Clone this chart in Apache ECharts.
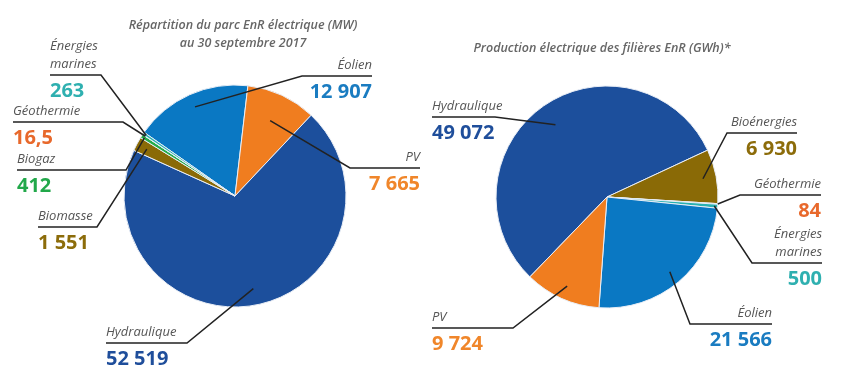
<!DOCTYPE html>
<html>
<head>
<meta charset="utf-8">
<script src="https://cdn.jsdelivr.net/npm/echarts@6/dist/echarts.min.js"></script>
<style>
  html, body { margin: 0; background: #fff; }
  #chart { width: 850px; height: 377px; }
</style>
</head>
<body>
<div id="chart"></div>
<script>
// Parc EnR électrique (MW) au 30/09/2017, ordre horaire
const parcNames = ['Éolien', 'PV', 'Hydraulique', 'Biomasse', 'Biogaz', 'Géothermie', 'Énergies marines']
const parcValues = [12907, 7665, 52519, 1551, 412, 16.5, 263]

// Production électrique des filières EnR (GWh)
const prodNames = ['Hydraulique', 'Bioénergies', 'Géothermie', 'Énergies marines', 'Éolien', 'PV']
const prodValues = [49072, 6930, 84, 500, 21566, 9724]

const sliceColor = {
  'Hydraulique': '#1c4f9c',
  'Éolien': '#0a78c3',
  'PV': '#f07d1f',
  'Biomasse': '#8a6a06',
  'Bioénergies': '#8a6a06',
  'Biogaz': '#25ad4b',
  'Géothermie': '#ea6a2a',
  'Énergies marines': '#29b1b2',
}
const valueColor = {
  'Hydraulique': '#1f4e9b',
  'Éolien': '#1a7cc1',
  'PV': '#f0862a',
  'Biomasse': '#8c6c0a',
  'Bioénergies': '#8c6c0a',
  'Biogaz': '#22a84a',
  'Géothermie': '#e8692c',
  'Énergies marines': '#2fb0b0',
}

const leftCenter = [235, 196]
const rightCenter = [607, 197]
const radius = 111

// emplacement des étiquettes : x du texte, y du trait souligné, coude du trait
const parcSpots = {
  'Énergies marines': { x: 50, uy: 75, elbow: 101, align: 'left', depth: 0.97 },
  'Géothermie': { x: 13, uy: 122, elbow: 123, align: 'left', depth: 0.97 },
  'Biogaz': { x: 17, uy: 170, elbow: 126, align: 'left', depth: 0.97 },
  'Biomasse': { x: 38, uy: 227, elbow: 97, align: 'left', depth: 0.9 },
  'Hydraulique': { x: 106, uy: 343, elbow: 187, align: 'left', depth: 0.85 },
  'Éolien': { x: 372, uy: 76, elbow: 302, align: 'right', depth: 0.88 },
  'PV': { x: 420, uy: 168, elbow: 350, align: 'right', depth: 0.75 },
}
const prodSpots = {
  'Hydraulique': { x: 432, uy: 117, elbow: 495, align: 'left', depth: 0.8 },
  'Bioénergies': { x: 797, uy: 133, elbow: 727, align: 'right', depth: 0.88 },
  'Géothermie': { x: 821, uy: 195, elbow: 740, align: 'right', depth: 1 },
  'Énergies marines': { x: 822, uy: 263, elbow: 752, align: 'right', depth: 0.97 },
  'Éolien': { x: 772, uy: 324, elbow: 690, align: 'right', depth: 0.88 },
  'PV': { x: 432, uy: 328, elbow: 513, align: 'left', depth: 0.88 },
}

function frNumber(v) {
  const parts = String(v).split('.')
  const int = parts[0].replace(/\B(?=(\d{3})+(?!\d))/g, ' ')
  return parts[1] ? int + ',' + parts[1] : int
}

function nameLines(name) {
  return name.replace('Énergies ', 'Énergies\n').split('\n')
}

function buildRich(names) {
  const rich = {
    n: { fontFamily: 'Open Sans', fontStyle: 'italic', fontSize: 13, color: '#555', lineHeight: 22 },
    n1: { fontFamily: 'Open Sans', fontStyle: 'italic', fontSize: 13, color: '#555', lineHeight: 13 },
  }
  names.forEach((nm, i) => {
    rich['v' + i] = { fontFamily: 'Open Sans', fontWeight: 'bold', fontSize: 20, color: valueColor[nm], lineHeight: 32 }
  })
  return rich
}

function labelFormatter(p) {
  const lines = nameLines(p.name)
  const head = lines.map((l, i) => (i < lines.length - 1 ? '{n1|' + l + '}' : '{n|' + l + '}')).join('\n')
  return head + '\n{v' + p.dataIndex + '|' + frNumber(p.value) + '}'
}

function makeLayout(spots, names, center) {
  return function (params) {
    const nm = names[params.dataIndex]
    const s = spots[nm]
    const edge = params.labelLinePoints
      ? params.labelLinePoints[0]
      : [params.rect.x + params.rect.width / 2, params.rect.y + params.rect.height / 2]
    const p0 = [
      center[0] + s.depth * (edge[0] - center[0]),
      center[1] + s.depth * (edge[1] - center[1]),
    ]
    const extra = nameLines(nm).length - 1
    return {
      x: s.x,
      y: s.uy - 22 - 13 * extra,
      align: s.align,
      verticalAlign: 'top',
      labelLinePoints: [p0, [s.elbow, s.uy], [s.x, s.uy]],
    }
  }
}

// secteurs colorés, sans étiquette
function pieSlices(names, values, center, startAngle) {
  return {
    type: 'pie',
    z: 1,
    center: center,
    radius: radius,
    startAngle: startAngle,
    clockwise: true,
    animation: false,
    silent: true,
    itemStyle: { borderColor: '#e9eef6', borderWidth: 1 },
    label: { show: false },
    labelLine: { show: false },
    emphasis: { disabled: true },
    data: names.map((nm, i) => ({
      name: nm,
      value: values[i],
      itemStyle: { color: sliceColor[nm] },
    })),
  }
}

// même camembert transparent par-dessus, pour les étiquettes et leurs traits
function pieLabels(names, values, center, startAngle, spots) {
  return {
    type: 'pie',
    z: 5,
    center: center,
    radius: radius,
    startAngle: startAngle,
    clockwise: true,
    avoidLabelOverlap: false,
    animation: false,
    silent: true,
    itemStyle: { color: 'rgba(0,0,0,0)', borderWidth: 0 },
    label: {
      show: true,
      position: 'outside',
      formatter: labelFormatter,
      rich: buildRich(names),
    },
    labelLine: {
      show: true,
      showAbove: true,
      length: 10,
      length2: 10,
      lineStyle: { color: '#222', width: 1.5 },
    },
    labelLayout: makeLayout(spots, names, center),
    emphasis: { disabled: true },
    data: names.map((nm, i) => ({ name: nm, value: values[i] })),
  }
}

const leftStart = 145
const rightStart = 226

const chart = echarts.init(document.getElementById('chart'))
chart.setOption({
  backgroundColor: '#fff',
  title: [
    {
      text: 'Répartition du parc EnR électrique (MW)\nau 30 septembre 2017',
      left: 238,
      top: 11,
      textAlign: 'center',
      textStyle: {
        fontFamily: 'Open Sans', fontStyle: 'italic', fontWeight: 600,
        fontSize: 12.5, color: '#666', lineHeight: 18,
      },
    },
    {
      text: 'Production électrique des filières EnR (GWh)*',
      left: 597,
      top: 37,
      textAlign: 'center',
      textStyle: {
        fontFamily: 'Open Sans', fontStyle: 'italic', fontWeight: 600,
        fontSize: 12.5, color: '#666',
      },
    },
  ],
  series: [
    pieSlices(parcNames, parcValues, leftCenter, leftStart),
    pieSlices(prodNames, prodValues, rightCenter, rightStart),
    pieLabels(parcNames, parcValues, leftCenter, leftStart, parcSpots),
    pieLabels(prodNames, prodValues, rightCenter, rightStart, prodSpots),
  ],
})

window.addEventListener('resize', () => chart.resize())
</script>
</body>
</html>
